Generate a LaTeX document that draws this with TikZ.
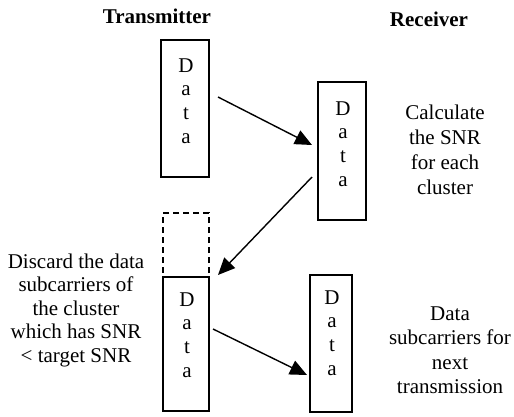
\documentclass[tikz,border=0pt]{standalone}
\usepackage{fontspec}
\setmainfont{Liberation Serif}
\usetikzlibrary{arrows.meta,calc}
\begin{document}
\begin{tikzpicture}[x=1pt,y=-1pt,
  every node/.style={inner sep=0pt,outer sep=0pt},
  databox/.style={draw,line width=1.3pt,minimum width=#1,minimum height=137pt},
  letters/.style={align=center,font=\fontsize{21}{23.8}\selectfont},
  note/.style={align=center,font=\fontsize{21}{#1}\selectfont},
  head/.style={font=\fontsize{21}{24}\selectfont\bfseries},
  flow/.style={line width=1.4pt,-{Triangle[length=17pt,width=15pt]}}]
\useasboundingbox (0,0) rectangle (514,416);

% column headings
\node[head] (tx) at (157,16) {Transmitter};
\node[head] (rx) at (429,19) {Receiver};

% data blocks
\node[databox=48pt,minimum height=137pt] (b1) at (185,108.5) {};
\node[letters] (t1) at (186,101) {D\\a\\t\\a};

\node[databox=48pt,minimum height=138pt] (b2) at (342,151) {};
\node[letters] (t2) at (343,144) {D\\a\\t\\a};

\node[draw,dashed,line width=1.3pt,minimum width=46pt,minimum height=64pt,
      dash pattern=on 6pt off 4pt] (bd) at (186,245) {};
\node[databox=46pt,minimum height=134pt] (b3) at (186,344) {};
\node[letters] (t3) at (187,335) {D\\a\\t\\a};

\node[databox=42pt,minimum height=137pt] (b4) at (331,343.5) {};
\node[letters] (t4) at (332,333) {D\\a\\t\\a};

% descriptions
\node[note=25pt] (n1) at (445,150) {Calculate\\the SNR\\for each\\cluster};
\node[note=23.5pt] (n2) at (76,310) {Discard the data\\subcarriers of\\the cluster\\which has SNR\\< target SNR};
\node[note=24.5pt] (n3) at (450,350) {Data\\subcarriers for\\next\\transmission};

% flow between blocks
\draw[flow] ($(b1.north east)+(9,57)$) -- ($(b2.north west)+(-6,63)$);
\draw[flow] ($(b2.north west)+(-6,95)$) -- ($(b3.north east)+(9,-2)$);
\draw[flow] ($(b3.north east)+(4,52)$) -- ($(b4.north west)+(-3,100)$);
\end{tikzpicture}
\end{document}
